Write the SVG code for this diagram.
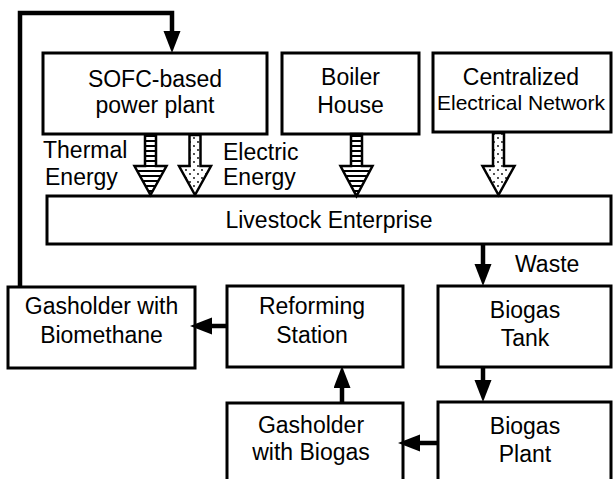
<svg xmlns="http://www.w3.org/2000/svg" width="613" height="479" viewBox="0 0 613 479">
<style>
.box{fill:#fff;stroke:#000;stroke-width:3}
.t{font-family:"Liberation Sans",Arial,sans-serif;font-size:23px;fill:#000;text-anchor:middle}
.ts{font-family:"Liberation Sans",Arial,sans-serif;font-size:21px;fill:#000;text-anchor:middle}
.tl{font-family:"Liberation Sans",Arial,sans-serif;font-size:23px;fill:#000}
.c{fill:none;stroke:#000;stroke-width:4.5}
.hol{stroke:#000;stroke-width:2.5;stroke-linejoin:miter}
</style>
<defs>
<pattern id="stripes" patternUnits="userSpaceOnUse" width="8" height="5">
<rect width="8" height="5" fill="#fff"/>
<rect y="0" width="8" height="2" fill="#000"/>
</pattern>
<pattern id="dots" patternUnits="userSpaceOnUse" width="8" height="8">
<rect width="8" height="8" fill="#fff"/>
<circle cx="2" cy="2" r="0.9" fill="#000"/>
<circle cx="6" cy="6" r="0.9" fill="#000"/>
</pattern>
<marker id="ah" markerUnits="userSpaceOnUse" markerWidth="24" markerHeight="18" refX="22" refY="8.5" orient="auto" viewBox="0 0 24 18">
<path d="M0,0 L22,8.5 L0,17 z" fill="#000"/>
</marker>
</defs>

<g id="sofc">
<rect class="box" x="43" y="53" width="224" height="81"/>
<text class="t" x="155" y="87">SOFC-based</text>
<text class="t" x="155" y="113">power plant</text>
</g>
<g id="boiler">
<rect class="box" x="282" y="53" width="137" height="81"/>
<text class="t" x="350.5" y="85">Boiler</text>
<text class="t" x="350.5" y="113">House</text>
</g>
<g id="network">
<rect class="box" x="433" y="53" width="178" height="79"/>
<text class="t" x="521" y="85">Centralized</text>
<text class="ts" x="521" y="110">Electrical Network</text>
</g>
<g id="livestock">
<rect class="box" x="47" y="196" width="564" height="48"/>
<text class="t" x="329" y="228">Livestock Enterprise</text>
</g>
<g id="biomethane">
<rect class="box" x="8" y="287" width="187" height="81"/>
<text class="t" x="101.5" y="314">Gasholder with</text>
<text class="t" x="101.5" y="343">Biomethane</text>
</g>
<g id="reforming">
<rect class="box" x="227" y="286" width="176" height="81"/>
<text class="t" x="312" y="314">Reforming</text>
<text class="t" x="312" y="343">Station</text>
</g>
<g id="tank">
<rect class="box" x="438" y="286" width="173" height="81"/>
<text class="t" x="525" y="318">Biogas</text>
<text class="t" x="525" y="346">Tank</text>
</g>
<g id="gasholder-biogas">
<rect class="box" x="227" y="403" width="176" height="80"/>
<text class="t" x="311" y="433">Gasholder</text>
<text class="t" x="311" y="460">with Biogas</text>
</g>
<g id="plant">
<rect class="box" x="438" y="402" width="173" height="81"/>
<text class="t" x="525" y="434">Biogas</text>
<text class="t" x="525" y="462">Plant</text>
</g>

<g id="connectors">
<path class="c" d="M20,287 V13 H172 V38"/>
<line class="c" x1="483" y1="244" x2="483" y2="275"/>
<line class="c" x1="483" y1="367" x2="483" y2="390"/>
<line class="c" x1="438" y1="443" x2="410" y2="443"/>
<line class="c" x1="342" y1="403" x2="342" y2="378"/>
<line class="c" x1="227" y1="326" x2="200" y2="326"/>
<line x1="172" y1="20" x2="172" y2="53" stroke="none" marker-end="url(#ah)"/>
<line x1="483" y1="250" x2="483" y2="286" stroke="none" marker-end="url(#ah)"/>
<line x1="483" y1="370" x2="483" y2="402" stroke="none" marker-end="url(#ah)"/>
<line x1="436" y1="443" x2="398" y2="443" stroke="none" marker-end="url(#ah)"/>
<line x1="342" y1="400" x2="342" y2="366" stroke="none" marker-end="url(#ah)"/>
<line x1="225" y1="326" x2="190" y2="326" stroke="none" marker-end="url(#ah)"/>

<polygon class="hol" fill="url(#stripes)" points="145,135 145,166 134.5,166 150.5,195 166.5,166 156,166 156,135"/>
<polygon class="hol" fill="url(#dots)" points="189.5,135 189.5,166 179,166 195,195 211,166 200.5,166 200.5,135"/>
<polygon class="hol" fill="url(#stripes)" points="351,134 351,166 340.5,166 356.5,196 372.5,166 362,166 362,134"/>
<polygon class="hol" fill="url(#dots)" points="493,133 493,166 482.5,166 498.5,195 514.5,166 504,166 504,133"/>

<text class="tl" x="43" y="158">Thermal</text>
<text class="tl" x="45" y="185">Energy</text>
<text class="tl" x="223" y="160">Electric</text>
<text class="tl" x="223" y="185">Energy</text>
<text class="tl" x="515" y="272">Waste</text>
</g>
</svg>
